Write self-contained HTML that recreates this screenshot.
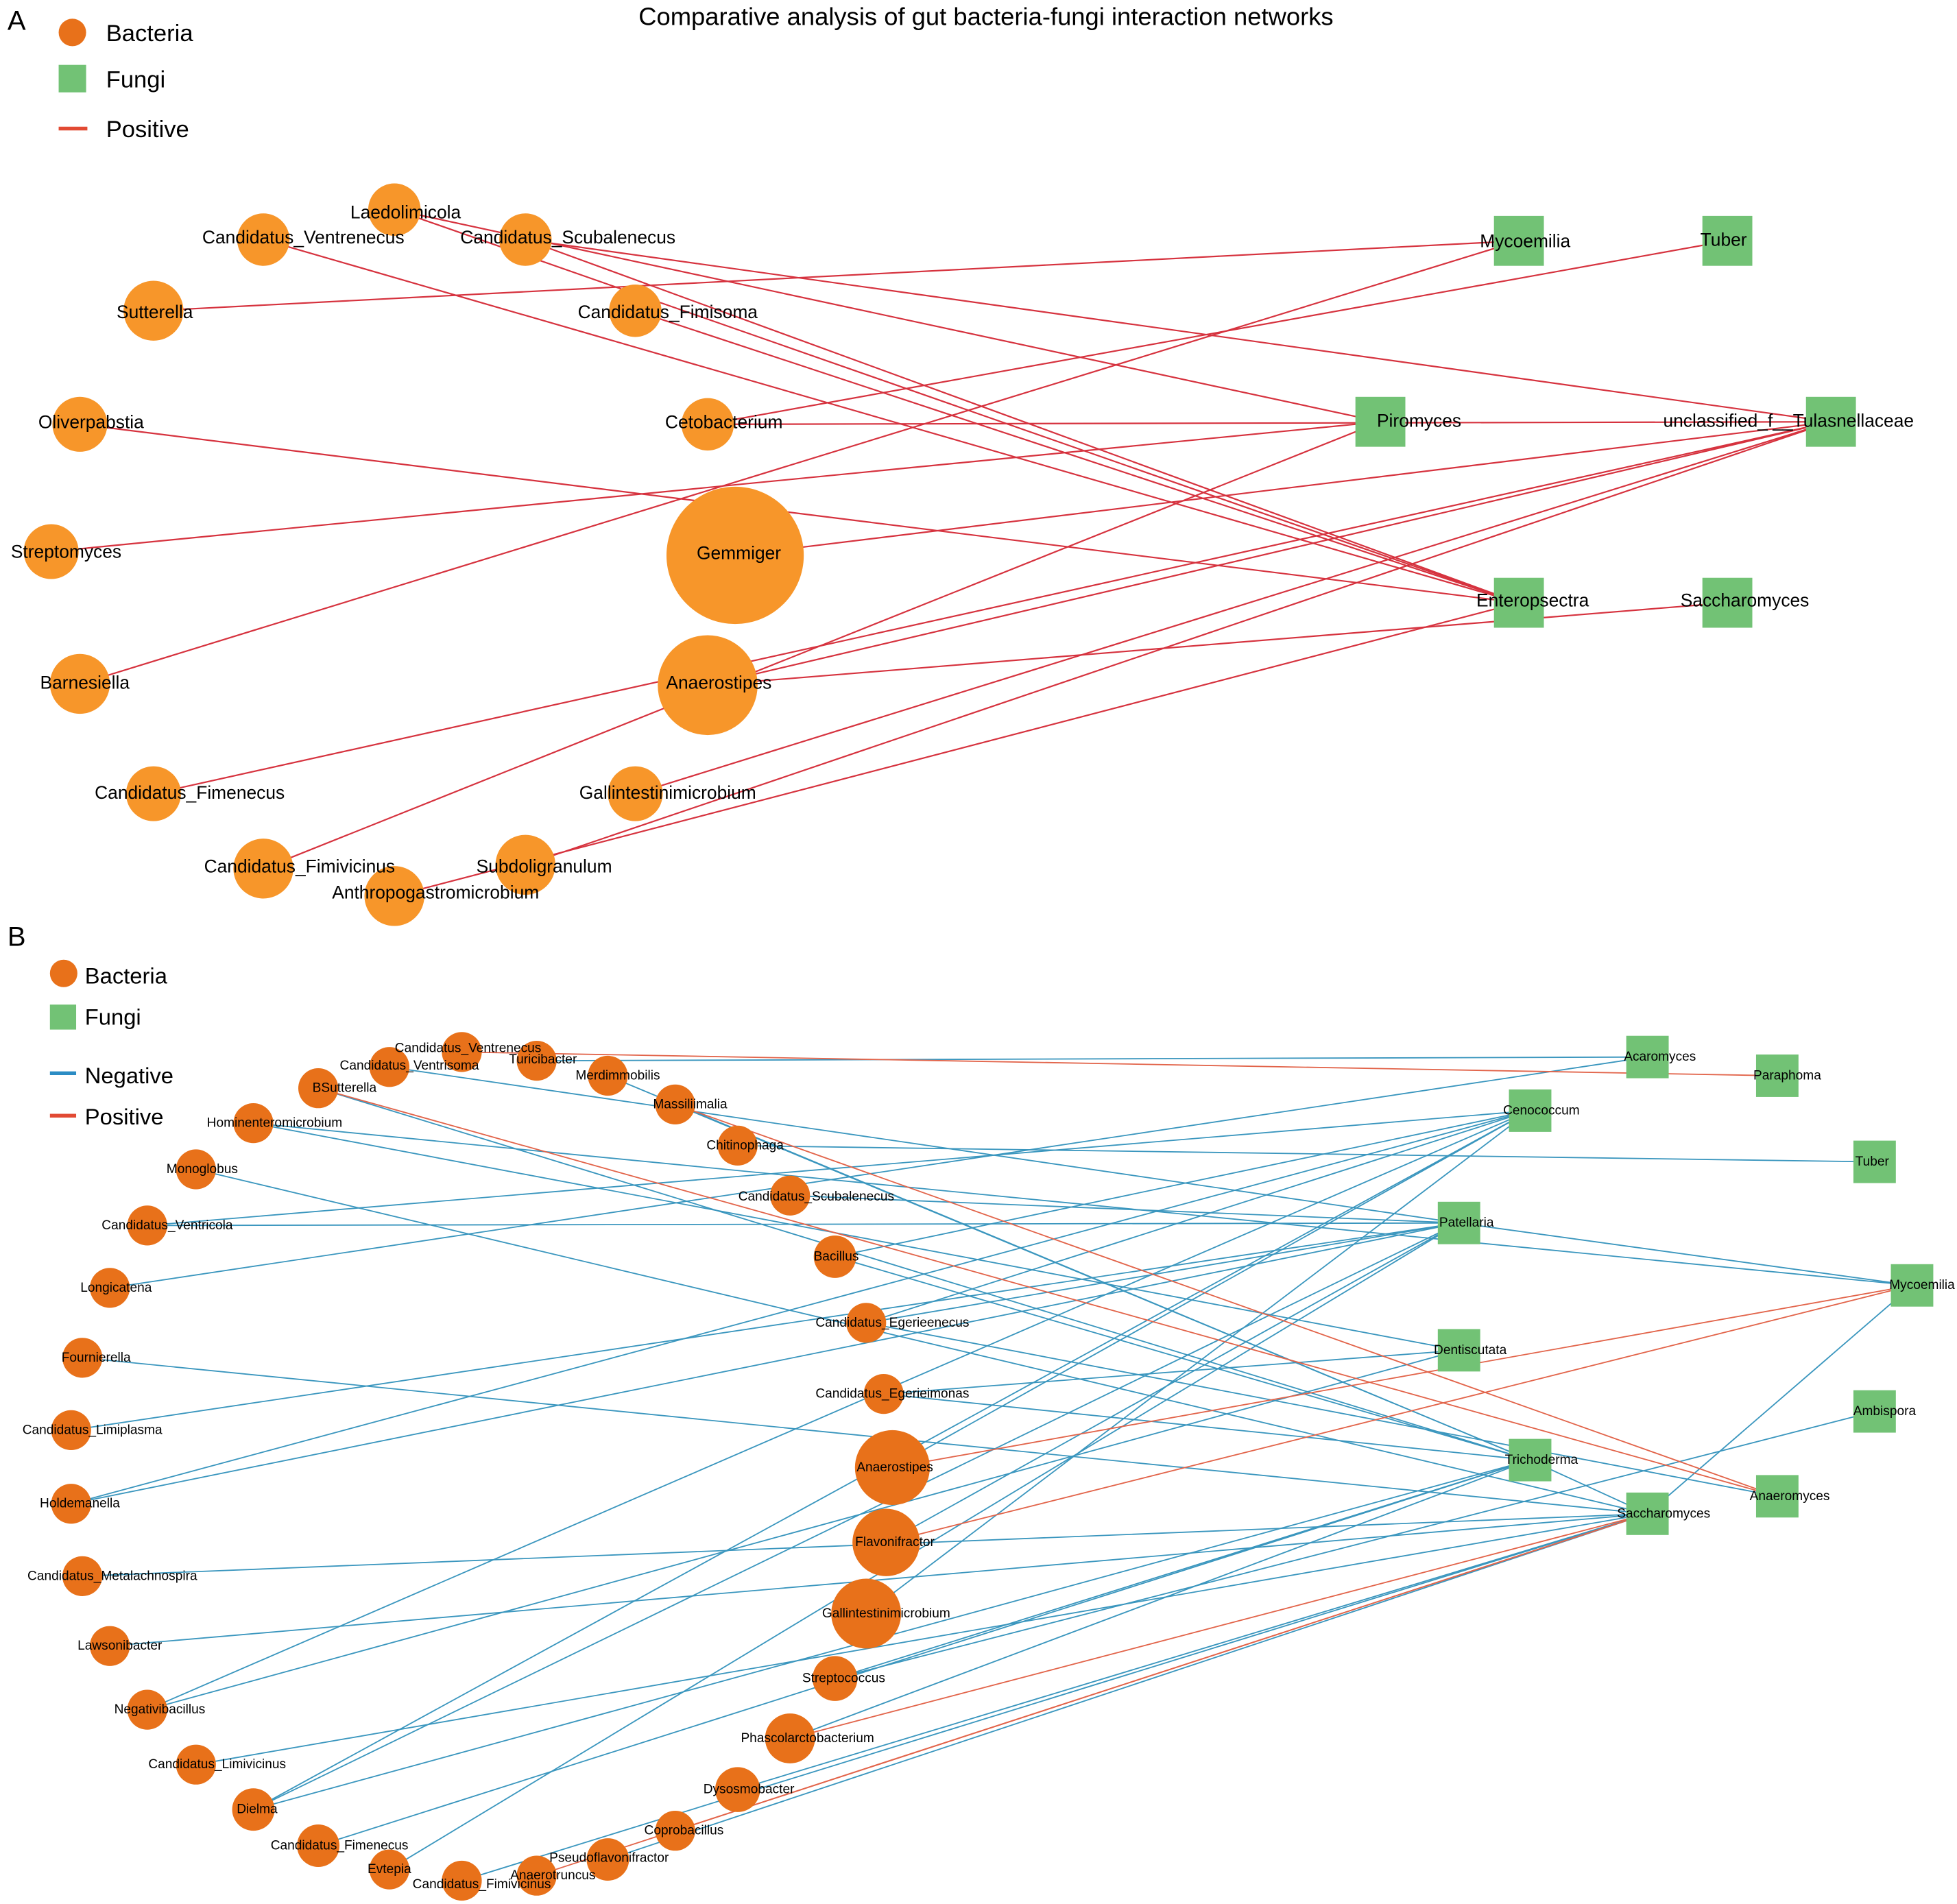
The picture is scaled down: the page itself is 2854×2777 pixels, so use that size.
<!DOCTYPE html>
<html><head><meta charset="utf-8"><style>html,body{margin:0;padding:0;background:#fff}svg{display:block}</style></head>
<body>
<svg xmlns="http://www.w3.org/2000/svg" width="2854" height="2777" viewBox="0 0 1568 1525.7" font-family="Liberation Sans, sans-serif">
<rect width="1568" height="1526" fill="#fff"/>
<text x="6" y="24" font-size="22">A</text>
<text x="790" y="20" font-size="20" text-anchor="middle">Comparative analysis of gut bacteria-fungi interaction networks</text>
<circle cx="58" cy="26" r="11" fill="#E8711A"/><text x="85" y="33" font-size="19">Bacteria</text>
<rect x="47" y="52" width="22" height="22" fill="#72C275"/><text x="85" y="70" font-size="19">Fungi</text>
<line x1="47" y1="103" x2="70" y2="103" stroke="#E24A33" stroke-width="3"/><text x="85" y="110" font-size="19">Positive</text>

<g stroke="#D6323E" stroke-width="1.2" fill="none">
<line x1="316" y1="168" x2="1217" y2="483"/>
<line x1="316" y1="168" x2="1106" y2="338"/>
<line x1="211" y1="192" x2="1217" y2="483"/>
<line x1="421" y1="192" x2="1467" y2="338"/>
<line x1="421" y1="192" x2="1217" y2="483"/>
<line x1="123" y1="249" x2="1217" y2="193"/>
<line x1="509" y1="249" x2="1217" y2="483"/>
<line x1="567" y1="340" x2="1467" y2="338"/>
<line x1="567" y1="340" x2="1384" y2="193"/>
<line x1="64" y1="340" x2="1217" y2="483"/>
<line x1="41" y1="442" x2="1106" y2="338"/>
<line x1="589" y1="445" x2="1467" y2="338"/>
<line x1="64" y1="548" x2="1217" y2="193"/>
<line x1="567" y1="549" x2="1384" y2="483"/>
<line x1="567" y1="549" x2="1467" y2="338"/>
<line x1="123" y1="636" x2="1467" y2="338"/>
<line x1="211" y1="696" x2="1106" y2="338"/>
<line x1="509" y1="636" x2="1467" y2="338"/>
<line x1="421" y1="693" x2="1467" y2="338"/>
<line x1="316" y1="718" x2="1217" y2="483"/>
</g>
<g fill="#F7962A">
<circle cx="316" cy="168" r="21"/><circle cx="211" cy="192" r="21"/><circle cx="421" cy="192" r="21"/>
<circle cx="123" cy="249" r="24"/><circle cx="509" cy="249" r="21"/><circle cx="64" cy="340" r="22"/>
<circle cx="567" cy="340" r="21"/><circle cx="41" cy="442" r="22"/><circle cx="589" cy="445" r="55"/>
<circle cx="64" cy="548" r="24"/><circle cx="567" cy="549" r="40"/><circle cx="123" cy="636" r="22"/>
<circle cx="509" cy="636" r="22"/><circle cx="211" cy="696" r="24"/><circle cx="421" cy="693" r="24"/>
<circle cx="316" cy="718" r="24"/>
</g>
<g fill="#72C275">
<rect x="1197" y="173" width="40" height="40"/><rect x="1364" y="173" width="40" height="40"/>
<rect x="1086" y="318" width="40" height="40"/><rect x="1447" y="318" width="40" height="40"/>
<rect x="1197" y="463" width="40" height="40"/><rect x="1364" y="463" width="40" height="40"/>
</g>
<g font-size="14.5" text-anchor="middle" fill="#000">
<text x="325" y="175">Laedolimicola</text><text x="243" y="195">Candidatus_Ventrenecus</text>
<text x="455" y="195">Candidatus_Scubalenecus</text><text x="124" y="255">Sutterella</text>
<text x="535" y="255">Candidatus_Fimisoma</text><text x="73" y="343">Oliverpabstia</text>
<text x="580" y="343">Cetobacterium</text><text x="53" y="447">Streptomyces</text>
<text x="592" y="448">Gemmiger</text><text x="68" y="552">Barnesiella</text>
<text x="576" y="552">Anaerostipes</text><text x="152" y="640">Candidatus_Fimenecus</text>
<text x="535" y="640">Gallintestinimicrobium</text><text x="240" y="699">Candidatus_Fimivicinus</text>
<text x="436" y="699">Subdoligranulum</text><text x="349" y="720">Anthropogastromicrobium</text>
<text x="1222" y="198">Mycoemilia</text><text x="1381" y="197">Tuber</text>
<text x="1137" y="342">Piromyces</text><text x="1433" y="342">unclassified_f__Tulasnellaceae</text>
<text x="1228" y="486">Enteropsectra</text><text x="1398" y="486">Saccharomyces</text>
</g>

<text x="6" y="758" font-size="22">B</text>
<circle cx="51" cy="780" r="11" fill="#E8711A"/><text x="68" y="788" font-size="18">Bacteria</text>
<rect x="40" y="805" width="21" height="20" fill="#72C275"/><text x="68" y="821" font-size="18">Fungi</text>
<line x1="40" y1="860" x2="61" y2="860" stroke="#2B8CC4" stroke-width="3"/><text x="68" y="868" font-size="18">Negative</text>
<line x1="40" y1="894" x2="61" y2="894" stroke="#E24A33" stroke-width="3"/><text x="68" y="901" font-size="18">Positive</text>

<g stroke="#3A96BE" stroke-width="1" fill="none">
<line x1="312" y1="855" x2="1169" y2="980"/>
<line x1="430" y1="850" x2="1320" y2="847"/>
<line x1="487" y1="862" x2="1226" y2="1170"/>
<line x1="541" y1="885" x2="1226" y2="1170"/>
<line x1="255" y1="872" x2="1226" y2="1170"/>
<line x1="203" y1="900" x2="1169" y2="1082"/>
<line x1="203" y1="900" x2="1532" y2="1030"/>
<line x1="591" y1="918" x2="1502" y2="931"/>
<line x1="157" y1="937" x2="1320" y2="1213"/>
<line x1="633" y1="958" x2="1169" y2="980"/>
<line x1="118" y1="982" x2="1226" y2="890"/>
<line x1="118" y1="982" x2="1169" y2="980"/>
<line x1="88" y1="1032" x2="1320" y2="847"/>
<line x1="669" y1="1007" x2="1226" y2="1170"/>
<line x1="669" y1="1007" x2="1226" y2="890"/>
<line x1="694" y1="1060" x2="1169" y2="980"/>
<line x1="694" y1="1060" x2="1226" y2="890"/>
<line x1="694" y1="1060" x2="1424" y2="1199"/>
<line x1="66" y1="1088" x2="1320" y2="1213"/>
<line x1="57" y1="1146" x2="1169" y2="980"/>
<line x1="708" y1="1117" x2="1169" y2="1082"/>
<line x1="708" y1="1117" x2="1226" y2="1170"/>
<line x1="57" y1="1205" x2="1226" y2="890"/>
<line x1="57" y1="1205" x2="1169" y2="980"/>
<line x1="715" y1="1176" x2="1226" y2="890"/>
<line x1="66" y1="1263" x2="1320" y2="1213"/>
<line x1="710" y1="1236" x2="1169" y2="980"/>
<line x1="694" y1="1293" x2="1226" y2="890"/>
<line x1="88" y1="1319" x2="1320" y2="1213"/>
<line x1="118" y1="1370" x2="1226" y2="890"/>
<line x1="118" y1="1370" x2="1169" y2="1082"/>
<line x1="669" y1="1345" x2="1226" y2="1170"/>
<line x1="669" y1="1345" x2="1502" y2="1131"/>
<line x1="157" y1="1414" x2="1320" y2="1213"/>
<line x1="203" y1="1450" x2="1226" y2="890"/>
<line x1="203" y1="1450" x2="1169" y2="980"/>
<line x1="203" y1="1450" x2="1226" y2="1170"/>
<line x1="633" y1="1393" x2="1226" y2="1170"/>
<line x1="255" y1="1479" x2="1226" y2="1170"/>
<line x1="591" y1="1434" x2="1320" y2="1213"/>
<line x1="312" y1="1498" x2="1169" y2="980"/>
<line x1="370" y1="1507" x2="1320" y2="1213"/>
<line x1="487" y1="1490" x2="1320" y2="1213"/>
<line x1="1169" y1="980" x2="1532" y2="1030"/>
<line x1="1226" y1="1170" x2="1320" y2="1213"/>
<line x1="1320" y1="1213" x2="1532" y2="1030"/>
</g>
<g stroke="#E2644A" stroke-width="1" fill="none">
<line x1="370" y1="843" x2="1424" y2="862"/>
<line x1="541" y1="885" x2="1424" y2="1199"/>
<line x1="255" y1="872" x2="1424" y2="1199"/>
<line x1="715" y1="1176" x2="1532" y2="1030"/>
<line x1="710" y1="1236" x2="1532" y2="1030"/>
<line x1="633" y1="1393" x2="1320" y2="1213"/>
<line x1="541" y1="1467" x2="1320" y2="1213"/>
<line x1="430" y1="1503" x2="1320" y2="1213"/>
</g>
<g fill="#E8711A">
<circle cx="370" cy="843" r="16"/><circle cx="430" cy="850" r="16"/><circle cx="312" cy="855" r="16"/>
<circle cx="487" cy="862" r="16"/><circle cx="255" cy="872" r="16"/><circle cx="541" cy="885" r="16"/>
<circle cx="203" cy="900" r="16"/><circle cx="591" cy="918" r="16"/><circle cx="157" cy="937" r="16"/>
<circle cx="633" cy="958" r="16"/><circle cx="118" cy="982" r="16"/><circle cx="669" cy="1007" r="17"/>
<circle cx="88" cy="1032" r="16"/><circle cx="694" cy="1060" r="16"/><circle cx="66" cy="1088" r="16"/>
<circle cx="708" cy="1117" r="16"/><circle cx="57" cy="1146" r="16"/><circle cx="715" cy="1176" r="30"/>
<circle cx="57" cy="1205" r="16"/><circle cx="710" cy="1236" r="27"/><circle cx="66" cy="1263" r="16"/>
<circle cx="694" cy="1293" r="28"/><circle cx="88" cy="1319" r="16"/><circle cx="669" cy="1345" r="18"/>
<circle cx="118" cy="1370" r="16"/><circle cx="633" cy="1393" r="20"/><circle cx="157" cy="1414" r="16"/>
<circle cx="591" cy="1434" r="18"/><circle cx="203" cy="1450" r="17"/><circle cx="541" cy="1467" r="16"/>
<circle cx="255" cy="1479" r="17"/><circle cx="487" cy="1490" r="17"/><circle cx="312" cy="1498" r="16"/>
<circle cx="430" cy="1503" r="16"/><circle cx="370" cy="1507" r="16"/>
</g>
<g fill="#72C275">
<rect x="1303" y="830" width="34" height="34"/><rect x="1407" y="845" width="34" height="34"/>
<rect x="1209" y="873" width="34" height="34"/><rect x="1485" y="914" width="34" height="34"/>
<rect x="1152" y="963" width="34" height="34"/><rect x="1515" y="1013" width="34" height="34"/>
<rect x="1152" y="1065" width="34" height="34"/><rect x="1485" y="1114" width="34" height="34"/>
<rect x="1209" y="1153" width="34" height="34"/><rect x="1407" y="1182" width="34" height="34"/>
<rect x="1303" y="1196" width="34" height="34"/>
</g>
<g font-size="10.5" text-anchor="middle" fill="#000">
<text x="375" y="843">Candidatus_Ventrenecus</text><text x="435" y="852">Turicibacter</text>
<text x="328" y="857">Candidatus_Ventrisoma</text><text x="495" y="865">Merdimmobilis</text>
<text x="276" y="875">BSutterella</text><text x="553" y="888">Massiliimalia</text>
<text x="220" y="903">Hominenteromicrobium</text><text x="597" y="921">Chitinophaga</text>
<text x="162" y="940">Monoglobus</text><text x="654" y="962">Candidatus_Scubalenecus</text>
<text x="134" y="985">Candidatus_Ventricola</text><text x="670" y="1010">Bacillus</text>
<text x="93" y="1035">Longicatena</text><text x="715" y="1063">Candidatus_Egerieenecus</text>
<text x="77" y="1091">Fournierella</text><text x="715" y="1120">Candidatus_Egerieimonas</text>
<text x="74" y="1149">Candidatus_Limiplasma</text><text x="717" y="1179">Anaerostipes</text>
<text x="64" y="1208">Holdemanella</text><text x="717" y="1239">Flavonifractor</text>
<text x="90" y="1266">Candidatus_Metalachnospira</text><text x="710" y="1296">Gallintestinimicrobium</text>
<text x="96" y="1322">Lawsonibacter</text><text x="676" y="1348">Streptococcus</text>
<text x="128" y="1373">Negativibacillus</text><text x="647" y="1396">Phascolarctobacterium</text>
<text x="174" y="1417">Candidatus_Limivicinus</text><text x="600" y="1437">Dysosmobacter</text>
<text x="206" y="1453">Dielma</text><text x="548" y="1470">Coprobacillus</text>
<text x="272" y="1482">Candidatus_Fimenecus</text><text x="488" y="1492">Pseudoflavonifractor</text>
<text x="312" y="1501">Evtepia</text><text x="443" y="1506">Anaerotruncus</text>
<text x="386" y="1513">Candidatus_Fimivicinus</text>
<text x="1330" y="850">Acaromyces</text><text x="1432" y="865">Paraphoma</text>
<text x="1235" y="893">Cenococcum</text><text x="1500" y="934">Tuber</text>
<text x="1175" y="983">Patellaria</text><text x="1540" y="1033">Mycoemilia</text>
<text x="1178" y="1085">Dentiscutata</text><text x="1510" y="1134">Ambispora</text>
<text x="1235" y="1173">Trichoderma</text><text x="1434" y="1202">Anaeromyces</text>
<text x="1333" y="1216">Saccharomyces</text>
</g>
</svg>
</body></html>
